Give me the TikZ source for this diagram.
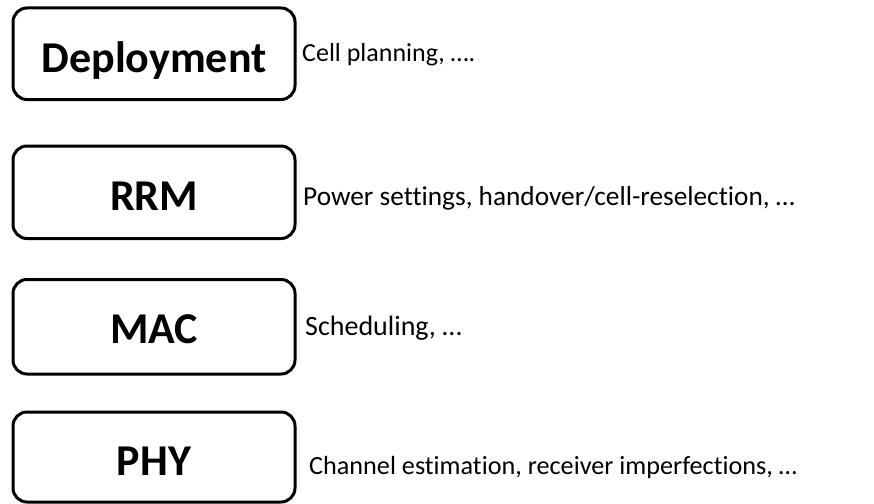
\documentclass[tikz,border=0pt]{standalone}
\usepackage{fontspec}
\setmainfont[Ligatures=NoCommon]{Carlito}
\begin{document}
\begin{tikzpicture}[x=1pt,y=-1pt,
  layerbox/.style={draw=black,line width=3pt,rounded corners=14pt,
    minimum width=282pt,inner sep=0pt,outer sep=0pt},
  layername/.style={font=\fontsize{44}{48}\selectfont\bfseries,
    inner sep=0pt,anchor=base},
  layernote/.style={font=\fontsize{#1}{32}\selectfont,
    inner sep=0pt,anchor=base west},
  layernote/.default=27]
  \useasboundingbox (0,0) rectangle (874,503);

  % layer boxes
  \node[layerbox,minimum height=91.5pt] (dep) at (154,53.75) {};
  \node[layerbox,minimum height=92.5pt] (rrm) at (154,192.25) {};
  \node[layerbox,minimum height=94.5pt] (mac) at (154,326.75) {};
  \node[layerbox,minimum height=90pt]   (phy) at (154,457) {};

  % layer names
  \node[layername] (depname) at (154,72)  {Deployment};
  \node[layername] (rrmname) at (154,210) {RRM};
  \node[layername] (macname) at (154,343) {MAC};
  \node[layername] (phyname) at (154,475) {PHY};

  % descriptions
  \node[layernote=26]   (depnote) at (302,62)  {Cell planning, ….};
  \node[layernote=27.3] (rrmnote) at (303,205) {Power settings, handover/cell-reselection, …};
  \node[layernote=28]   (macnote) at (305,335) {Scheduling, …};
  \node[layernote=26.2] (phynote) at (309,474) {Channel estimation, receiver imperfections, …};
\end{tikzpicture}
\end{document}
